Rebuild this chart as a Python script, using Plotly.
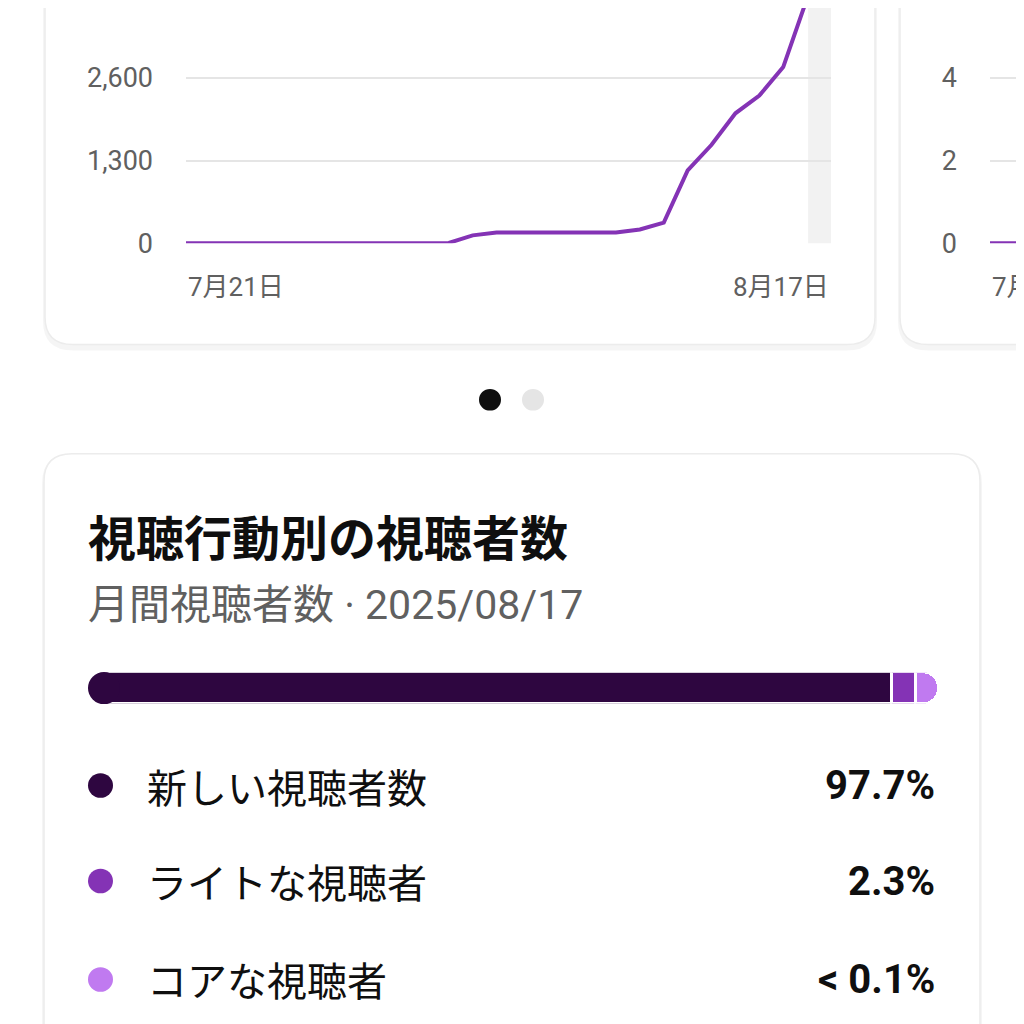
import plotly.graph_objects as go
import pandas as pd

dates = pd.date_range("2025-07-21", "2025-08-17", freq="D")
viewers = [0, 0, 0, 0, 0, 0, 0, 0, 0, 0, 0, 5, 124, 170, 170, 170, 170, 170, 170,
           217, 325, 1145, 1548, 2043, 2321, 2770, 3850, 4700]
viewers2 = [0] * len(dates)
y_ticks = [0, 1300, 2600, 3900]
y_ticks2 = [0, 2, 4, 6]
x_labels = ["7月21日", "8月17日"]

cat_names = ["新しい視聴者数", "ライトな視聴者", "コアな視聴者"]
cat_share = [97.7, 2.3, 0.1]
cat_text = ["97.7%", "2.3%", "< 0.1%"]
cat_colors = ["#2e0640", "#8433b5", "#c07af0"]
min_share = 2.9
disp = [max(s, min_share) for s in cat_share]

OFF = 8
W = H = 1024 - OFF
FONT = "Roboto, Noto Sans CJK JP, sans-serif"
JP = "Noto Sans CJK JP, Roboto, sans-serif"
px = lambda x: (x - OFF) / W
py = lambda y: 1 - (y - OFF) / H


def rrect(x0, y0, x1, y1, r):
    X0, X1, Y0, Y1 = px(x0), px(x1), py(y0), py(y1)
    rx, ry = r / W, r / H
    return (f"M{X0+rx},{Y0} L{X1-rx},{Y0} Q{X1},{Y0} {X1},{Y0-ry} L{X1},{Y1+ry} "
            f"Q{X1},{Y1} {X1-rx},{Y1} L{X0+rx},{Y1} Q{X0},{Y1} {X0},{Y1+ry} "
            f"L{X0},{Y0-ry} Q{X0},{Y0} {X0+rx},{Y0} Z")


fig = go.Figure()
fig.add_trace(go.Scatter(x=dates, y=viewers, mode="lines", line=dict(color="#8433b5", width=4),
                         xaxis="x", yaxis="y", hoverinfo="skip"))
fig.add_trace(go.Scatter(x=dates, y=viewers2, mode="lines", line=dict(color="#8433b5", width=4),
                         xaxis="x2", yaxis="y2", hoverinfo="skip"))
total = sum(disp)
for n, d, c in zip(cat_names, disp, cat_colors):
    fig.add_trace(go.Bar(x=[d], y=[0], orientation="h", marker=dict(color=c, line=dict(color="white", width=3)),
                         xaxis="x3", yaxis="y3", hoverinfo="skip"))
fig.add_trace(go.Scatter(x=[0], y=[0], mode="markers", marker=dict(size=32, color=cat_colors[0]),
                         xaxis="x3", yaxis="y3", hoverinfo="skip", cliponaxis=False))

shapes = []
for (x0, y0, x1, y1) in [(45, -60, 875, 350), (900, -60, 1100, 350), (44, 461, 980, 1100)]:
    shapes.append(dict(type="path", path=rrect(x0 - 2, y0, x1 + 2, y1 + 6, 30), xref="paper", yref="paper",
                       fillcolor="rgba(0,0,0,0.04)", line=dict(width=0), layer="below"))
    shapes.append(dict(type="path", path=rrect(x0, y0, x1, y1, 28), xref="paper", yref="paper",
                       fillcolor="white", line=dict(color="#ececec", width=1.5), layer="below"))
shapes.append(dict(type="rect", xref="x", yref="paper", x0=dates[-2] + pd.Timedelta(hours=1), x1=dates[-1],
                   y0=py(247), y1=1, fillcolor="#f2f2f2", line=dict(width=0), layer="below"))
shapes.append(dict(type="circle", xref="paper", yref="paper", x0=px(479), x1=px(501), y0=py(395), y1=py(417),
                   fillcolor="#0f0f0f", line=dict(width=0)))
shapes.append(dict(type="circle", xref="paper", yref="paper", x0=px(522), x1=px(544), y0=py(395), y1=py(417),
                   fillcolor="#e5e5e5", line=dict(width=0)))
rows = [798, 895, 995]
for yy, c in zip(rows, cat_colors):
    shapes.append(dict(type="circle", xref="paper", yref="paper", x0=px(88), x1=px(113), y0=py(yy - 12.5),
                       y1=py(yy + 12.5), fillcolor=c, line=dict(width=0)))

ann = []
ann.append(dict(text=x_labels[0], x=px(186), y=py(291), xanchor="left", yanchor="middle"))
ann.append(dict(text=x_labels[1], x=px(831), y=py(291), xanchor="right", yanchor="middle"))
ann.append(dict(text=x_labels[0], x=px(990), y=py(291), xanchor="left", yanchor="middle"))
for a in ann:
    a.update(xref="paper", yref="paper", showarrow=False, font=dict(family=FONT, size=26, color="#606060"))
ann.append(dict(text="<b>視聴行動別の視聴者数</b>", x=px(86), y=py(543), xref="paper", yref="paper",
                xanchor="left", yanchor="middle", showarrow=False, font=dict(family=JP, size=48, color="#0f0f0f")))
ann.append(dict(text="月間視聴者数 · 2025/08/17", x=px(86), y=py(615), xref="paper", yref="paper",
                xanchor="left", yanchor="middle", showarrow=False, font=dict(family=FONT, size=41, color="#606060")))
for yy, n, t in zip(rows, cat_names, cat_text):
    ann.append(dict(text=n, x=px(145), y=py(yy), xref="paper", yref="paper", xanchor="left", yanchor="middle",
                    showarrow=False, font=dict(family=JP, size=40, color="#0f0f0f")))
    ann.append(dict(text=f"<b>{t}</b>", x=px(937), y=py(yy), xref="paper", yref="paper", xanchor="right",
                    yanchor="middle", showarrow=False, font=dict(family=FONT, size=40, color="#0f0f0f")))

axfont = dict(family=FONT, size=27, color="#606060")
fig.update_layout(
    width=W, height=H, margin=dict(l=0, r=0, t=0, b=0), paper_bgcolor="white", plot_bgcolor="rgba(0,0,0,0)",
    showlegend=False, shapes=shapes, annotations=ann, barmode="stack", bargap=0, barcornerradius=16,
    xaxis=dict(domain=[px(186), px(831)], range=[dates[0], dates[-1]], showticklabels=False, showgrid=False,
               zeroline=False, fixedrange=True),
    yaxis=dict(domain=[py(247), 1], range=[0, 1300 * (247 - OFF) / 84], tickvals=y_ticks,
               ticktext=[f"{v:,}" for v in y_ticks], tickfont=axfont, ticklabelstandoff=32,
               gridcolor="#e5e5e5", gridwidth=2, zeroline=False, showline=False),
    xaxis2=dict(domain=[px(990), 1], range=[dates[0], dates[0] + pd.Timedelta(hours=34 / 23.9 * 24)],
                showticklabels=False, showgrid=False, zeroline=False),
    yaxis2=dict(domain=[py(247), 1], range=[0, 2 * (247 - OFF) / 84], tickvals=y_ticks2, tickfont=axfont,
                ticklabelstandoff=32, gridcolor="#e5e5e5", gridwidth=2, zeroline=False, anchor="x2"),
    xaxis3=dict(domain=[px(104), px(939)], range=[0, total], visible=False),
    yaxis3=dict(domain=[py(715), py(683)], range=[-0.5, 0.5], visible=False, anchor="x3"),
)
fig.write_html("out.html")
